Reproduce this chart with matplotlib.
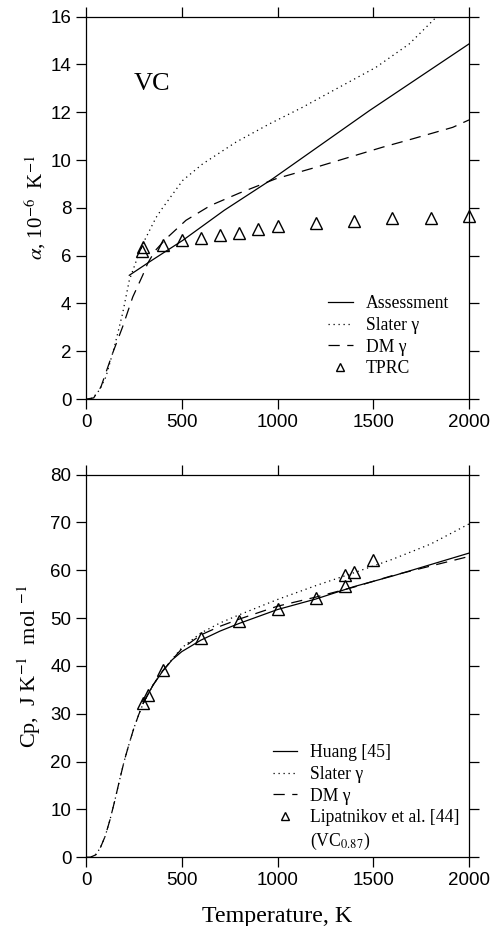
import numpy as np
import matplotlib
matplotlib.use('Agg')
import matplotlib.pyplot as plt

plt.rcParams['font.family'] = ['Liberation Serif', 'DejaVu Serif']
plt.rcParams['mathtext.fontset'] = 'stix'

# ---- top panel: thermal expansion of VC ----
t_assess = [226, 331, 505, 722, 975, 1480, 2000]
a_assess = [5.18, 5.74, 6.64, 7.9, 9.22, 12.07, 14.86]

t_slater = [0, 35, 70, 104, 148, 191, 226, 270, 300, 366, 400, 505, 609, 783,
            957, 1131, 1323, 1514, 1688, 1819, 1850]
a_slater = [0, 0.04, 0.38, 0.93, 2.18, 3.58, 4.97, 5.95, 6.55, 7.6, 8.0, 9.15,
            9.84, 10.75, 11.51, 12.21, 13.05, 13.88, 14.86, 15.9, 16.1]

t_dm = [0, 40, 78, 139, 191, 244, 296, 322, 360, 418, 522, 650, 801, 992,
        1201, 1375, 1549, 1706, 1915, 2000]
a_dm = [0, 0.05, 0.51, 1.92, 3.02, 4.27, 5.18, 5.68, 6.2, 6.71, 7.48, 8.1,
        8.62, 9.22, 9.7, 10.12, 10.54, 10.89, 11.37, 11.68]

t_tprc = [293, 300, 400, 500, 600, 700, 800, 900, 1000, 1200, 1400, 1600, 1800, 2000]
a_tprc = [6.2, 6.35, 6.43, 6.64, 6.75, 6.85, 6.96, 7.13, 7.24, 7.35, 7.46, 7.56, 7.56, 7.66]

# ---- bottom panel: heat capacity ----
t_huang = [298, 350, 400, 450, 500, 600, 700, 800, 1000, 1200, 1400, 1600, 1800, 2000]
cp_huang = [32.2, 36.0, 38.9, 41.3, 43.0, 45.4, 47.3, 48.9, 51.8, 54.0, 56.6,
            58.8, 61.2, 63.6]

t_low = [0, 25, 50, 75, 100, 125, 150, 175, 200, 225, 250, 275, 300, 350, 400]
cp_low = [0, 0.05, 0.5, 2.0, 4.4, 7.8, 11.8, 16.1, 20.2, 23.7, 27.0, 29.8, 32.3, 36.0, 39.0]

t_high = [500, 600, 700, 800, 1000, 1200, 1400, 1600, 1800, 2000]
cp_slater_high = [43.8, 46.9, 49.0, 50.7, 53.9, 56.8, 59.5, 62.3, 65.5, 69.7]
cp_dm_high = [43.6, 46.5, 48.3, 49.8, 52.5, 54.4, 56.5, 58.9, 60.9, 62.9]

t_lip = [300, 326, 404, 600, 800, 1000, 1200, 1355, 1355, 1400, 1500]
cp_lip = [32.2, 34.0, 39.2, 45.8, 49.5, 52.0, 54.2, 56.7, 59.0, 59.7, 62.2]

fig = plt.figure(figsize=(4.96, 9.26), dpi=100)
ax1 = fig.add_axes([0.1734, 0.569, 0.7722, 0.413])
ax2 = fig.add_axes([0.1734, 0.0742, 0.7722, 0.4132])

lw = 0.9
dash = (0, (9, 6))
dot = (0, (1, 3))
tri = dict(marker='^', ms=8, mfc='none', mec='black', mew=1.0, ls='none')
leg_kw = dict(loc='upper left', frameon=False, fontsize=12.7, handlelength=1.4,
              handletextpad=0.75, labelspacing=0.27, borderpad=0,
              borderaxespad=0, markerscale=0.75)

ax1.plot(t_assess, a_assess, color='black', lw=lw, label='Assessment')
ax1.plot(t_slater, a_slater, color='black', lw=lw, ls=dot, label='Slater γ')
ax1.plot(t_dm, a_dm, color='black', lw=lw, ls=dash, label='DM γ')
ax1.plot(t_tprc, a_tprc, color='black', label='TPRC', clip_on=False, **tri)
ax1.set_ylim(0, 16)
ax1.set_yticks(range(0, 17, 2))
ax1.set_ylabel(r'$\alpha$, 10$^{-6}$  K$^{-1}$', fontsize=15, labelpad=2)
ax1.text(345, 13.2, 'VC', fontsize=19, ha='center', va='center')
ax1.legend(bbox_to_anchor=(0.632, 0.272), **leg_kw)

cp_slater = cp_low + cp_slater_high
cp_dm = cp_low + cp_dm_high
t_all = t_low + t_high
ax2.plot(t_huang, cp_huang, color='black', lw=lw, label='Huang [45]')
ax2.plot(t_all, cp_slater, color='black', lw=lw, ls=dot, label='Slater γ')
ax2.plot(t_all, cp_dm, color='black', lw=lw, ls=dash, label='DM γ')
ax2.plot(t_lip, cp_lip, color='black', label='Lipatnikov et al. [44]', **tri)
ax2.plot([], [], ls='none', label='(VC$_{0.87}$)')
ax2.set_ylim(0, 80)
ax2.set_yticks(range(0, 81, 10))
ax2.set_ylabel(r'Cp,  J K$^{-1}$  mol $^{-1}$', fontsize=16, labelpad=5)
ax2.set_xlabel('Temperature, K', fontsize=17.3, labelpad=12)
ax2.legend(bbox_to_anchor=(0.487, 0.296), **leg_kw)

for ax in (ax1, ax2):
    ax.set_xlim(0, 2000)
    ax.set_xticks([0, 500, 1000, 1500, 2000])
    ax.tick_params(direction='out', length=7, width=0.9, top=True, right=True,
                   labelsize=13.5)
    for lab in ax.get_xticklabels() + ax.get_yticklabels():
        lab.set_family('Liberation Sans')
    for s in ax.spines.values():
        s.set_linewidth(0.9)

fig.savefig('out.png', dpi=100)
